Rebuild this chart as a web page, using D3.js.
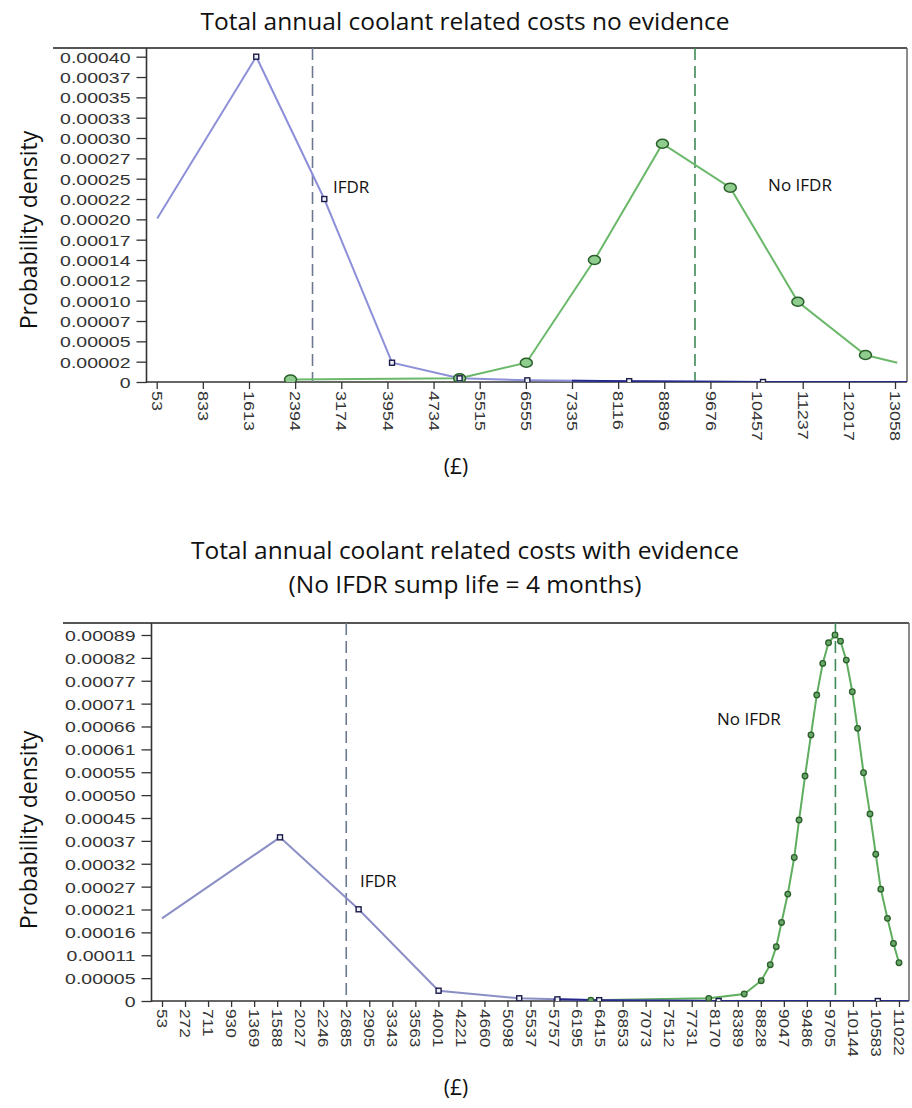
<!DOCTYPE html>
<html>
<head>
<meta charset="utf-8">
<script src="https://cdn.jsdelivr.net/npm/d3@7"></script>
<style>
  body { margin: 0; background: #ffffff; }
  svg { display: block; }
</style>
</head>
<body>
<svg id="chart" width="912" height="1108"></svg>
<script>
// ---------- Panel 1: no evidence ----------
const topXTicks = [53, 833, 1613, 2394, 3174, 3954, 4734, 5515, 6555, 7335, 8116, 8896, 9676, 10457, 11237, 12017, 13058];
const topYTickLabels = ["0", "0.00002", "0.00005", "0.00007", "0.00010", "0.00012", "0.00014", "0.00017",
  "0.00020", "0.00022", "0.00025", "0.00027", "0.00030", "0.00033", "0.00035", "0.00037", "0.00040"];
const topYMax = 0.0004;
// [cost £, density]
const topIfdr = [[62, 0.000201], [1736, 0.0004], [2887, 0.000225], [4032, 0.0000237], [5175, 0.0000045],
  [6580, 0.000002], [8303, 0.000001], [10566, 0], [13329, 0]];
const topNoIfdr = [[2316, 0.000003], [5175, 0.0000045], [6563, 0.0000237], [7715, 0.00015], [8865, 0.000293],
  [10012, 0.000239], [11155, 0.0000987], [12392, 0.0000332], [13110, 0.0000237]];
const topMeans = [2688, 9415];
const topTitle = ["Total annual coolant related costs no evidence"];

// ---------- Panel 2: with evidence ----------
const botXTicks = [53, 272, 711, 930, 1369, 1588, 2027, 2246, 2685, 2905, 3343, 3563, 4001, 4221, 4660, 5098, 5537,
  5757, 6195, 6415, 6853, 7073, 7512, 7731, 8170, 8389, 8828, 9047, 9486, 9705, 10144, 10583, 11022];
const botYTickLabels = ["0", "0.00005", "0.00011", "0.00016", "0.00021", "0.00027", "0.00032", "0.00037",
  "0.00045", "0.00050", "0.00055", "0.00061", "0.00066", "0.00071", "0.00077", "0.00082", "0.00089"];
const botYMax = 0.00089;
const botIfdr = [[53, 0.000201], [1642, 0.000398], [2803, 0.000223], [4003, 0.000025], [5322, 0.0000066],
  [5831, 0.000004], [6411, 0.000002], [8207, 0], [10618, 0], [11206, 0]];
const botNoIfdr = [[6331, 0.000002], [8056, 0.0000065], [8512, 0.000017], [8832, 0.0000494], [8918, 0.0000883],
  [8975, 0.000132], [9025, 0.000191], [9122, 0.00026], [9245, 0.000349], [9337, 0.00044], [9451, 0.000547],
  [9525, 0.000647], [9580, 0.000744], [9637, 0.000821], [9692, 0.000871], [9802, 0.00089], [9907, 0.000875],
  [10017, 0.000829], [10132, 0.000752], [10232, 0.000663], [10346, 0.000555], [10469, 0.000455],
  [10579, 0.000357], [10675, 0.000272], [10802, 0.000201], [10917, 0.00014], [11022, 0.0000931]];
const botMeans = [2685, 9810];
const botTitle = ["Total annual coolant related costs with evidence", "(No IFDR sump life = 4 months)"];

const seriesNames = ["IFDR", "No IFDR"];

const svg = d3.select("#chart");

function drawPanel(p) {
  const g = svg.append("g");
  const { left, right, top, bottom } = p.box;

  // Title
  p.title.forEach((t, i) => {
    g.append("text")
      .attr("x", 465).attr("y", p.titleY + i * 34)
      .attr("text-anchor", "middle")
      .style("font-family", "'Open Sans', sans-serif")
      .style("font-size", "24.5px")
      .attr("fill", "#111")
      .text(t);
  });

  // Scales: ticks are evenly spaced, so the x scale is piecewise over the tick values
  const n = p.xTicks.length;
  const x = d3.scaleLinear()
    .domain(p.xTicks)
    .range(p.xTicks.map((d, i) => p.tickStart + i * (p.tickEnd - p.tickStart) / (n - 1)));
  const y = d3.scaleLinear().domain([0, p.yMax]).range([bottom, p.yTopPx]);

  // Frame: top rule (spanning the tick labels) and right border
  g.append("line").attr("x1", p.frameStart).attr("x2", right).attr("y1", top).attr("y2", top)
    .attr("stroke", "#555").attr("stroke-width", 2);
  g.append("line").attr("x1", right).attr("x2", right).attr("y1", top).attr("y2", bottom)
    .attr("stroke", "#666").attr("stroke-width", 1.5);

  // Y axis
  const yTickVals = p.yLabels.map((d, i) => i * p.yMax / (p.yLabels.length - 1));
  const yAxis = g.append("g").attr("transform", `translate(${left},0)`)
    .call(d3.axisLeft(y).tickValues(yTickVals).tickSize(10).tickFormat((d, i) => p.yLabels[i]));
  yAxis.select(".domain").remove();
  yAxis.selectAll(".tick line").attr("stroke", "#333").attr("stroke-width", 1.3);
  yAxis.selectAll(".tick text")
    .attr("x", 0).attr("dy", "0.36em")
    .attr("transform", "translate(-16,0) scale(1.3,1)")
    .style("font-family", "'Liberation Sans', Arial, sans-serif")
    .style("font-size", "15px")
    .attr("fill", "#333");
  g.append("line").attr("x1", left).attr("x2", left).attr("y1", top).attr("y2", bottom + 1)
    .attr("stroke", "#333").attr("stroke-width", 1.6);

  // X axis
  const xAxis = g.append("g").attr("transform", `translate(0,${bottom})`)
    .call(d3.axisBottom(x).tickValues(p.xTicks).tickSize(p.xTickSize).tickFormat(d3.format("d")));
  xAxis.select(".domain").remove();
  xAxis.selectAll(".tick line").attr("stroke", "#333").attr("stroke-width", 1.3);
  xAxis.selectAll(".tick text")
    .attr("x", 0).attr("y", 0).attr("dy", "0.36em")
    .attr("text-anchor", "start")
    .attr("transform", `translate(0,${p.xTickSize + 2}) rotate(90) scale(${p.xLabelStretch},1)`)
    .style("font-family", "'Liberation Sans', Arial, sans-serif")
    .style("font-size", "15px")
    .attr("fill", "#333");
  g.append("line").attr("x1", left).attr("x2", right).attr("y1", bottom).attr("y2", bottom)
    .attr("stroke", "#333").attr("stroke-width", 1.6);

  // Axis titles
  g.append("text")
    .attr("transform", `translate(${p.yTitleX},${p.yTitleY}) rotate(-90)`)
    .attr("text-anchor", "middle")
    .style("font-family", "'Open Sans', sans-serif")
    .style("font-size", "23px")
    .attr("fill", "#111")
    .text("Probability density");
  g.append("text")
    .attr("x", 456).attr("y", p.unitY)
    .attr("text-anchor", "middle")
    .style("font-family", "'Open Sans', sans-serif")
    .style("font-size", "21px")
    .attr("fill", "#111")
    .text("(£)");

  // Plot content clipped to the frame
  const clipId = "clip" + p.id;
  svg.append("clipPath").attr("id", clipId).append("rect")
    .attr("x", left).attr("y", top).attr("width", right - left).attr("height", bottom - top);
  const plot = g.append("g").attr("clip-path", `url(#${clipId})`);

  // Mean lines
  plot.selectAll("line.mean").data(p.means).join("line")
    .attr("class", "mean")
    .attr("x1", d => x(d)).attr("x2", d => x(d))
    .attr("y1", top).attr("y2", bottom)
    .attr("stroke", (d, i) => i === 0 ? "#6c7890" : "#3f8a58")
    .attr("stroke-width", 1.6)
    .attr("stroke-dasharray", "12,6");

  const line = d3.line().x(d => x(d[0])).y(d => y(d[1]));

  // No IFDR (green)
  plot.append("path").datum(p.noIfdr).attr("d", line)
    .attr("fill", "none").attr("stroke", p.greenLine).attr("stroke-width", 2);

  // IFDR (blue), with the near-zero tail drawn darker
  plot.append("path").datum(p.ifdr).attr("d", line)
    .attr("fill", "none").attr("stroke", p.blueLine).attr("stroke-width", 2);
  const tail = p.ifdr.filter(d => d[0] >= p.tailFrom);
  const prev = p.ifdr.filter(d => d[0] < p.tailFrom).pop();
  const t0 = tail[0];
  const f = (p.tailFrom - prev[0]) / (t0[0] - prev[0]);
  const tailPts = [[p.tailFrom, prev[1] + f * (t0[1] - prev[1])], ...tail];
  plot.append("path").datum(tailPts).attr("d", line)
    .attr("fill", "none").attr("stroke", "#262a8c").attr("stroke-width", 2);

  // Green markers
  plot.selectAll("ellipse.noifdr").data(p.noIfdr.slice(0, p.noIfdr.length - p.greenUnmarkedEnd)).join("ellipse")
    .attr("class", "noifdr")
    .attr("cx", d => x(d[0])).attr("cy", d => y(d[1]))
    .attr("rx", p.greenRx).attr("ry", p.greenRy)
    .attr("fill", p.greenFill).attr("stroke", "#2a5f2a").attr("stroke-width", p.greenStroke);

  // Blue markers (first and last points are unmarked line ends)
  const s = p.square;
  plot.selectAll("rect.ifdr").data(p.ifdr.slice(1, p.ifdr.length - 1)).join("rect")
    .attr("class", "ifdr")
    .attr("x", d => x(d[0]) - s / 2).attr("y", d => y(d[1]) - s / 2)
    .attr("width", s).attr("height", s)
    .attr("fill", "#eef0f8").attr("stroke", "#1b1b48").attr("stroke-width", 1.4);

  // Series labels
  p.labels.forEach((l, i) => {
    g.append("text")
      .attr("x", x(l[0])).attr("y", y(l[1]))
      .style("font-family", "'Open Sans', sans-serif")
      .style("font-size", "17px")
      .attr("fill", "#111")
      .text(seriesNames[i]);
  });
}

drawPanel({
  id: 1,
  title: topTitle, titleY: 30,
  box: { left: 146.5, right: 907, top: 48, bottom: 382 },
  frameStart: 53,
  tickStart: 156.7, tickEnd: 895,
  yTopPx: 56.7, yMax: topYMax, yLabels: topYTickLabels,
  xTicks: topXTicks, xTickSize: 7, xLabelStretch: 1.2,
  yTitleX: 37, yTitleY: 230, unitY: 474,
  ifdr: topIfdr, noIfdr: topNoIfdr, means: topMeans,
  tailFrom: 7335,
  blueLine: "#8d90d8", greenLine: "#6ab86a",
  greenRx: 6, greenRy: 4.5, greenFill: "#8fcd8f", greenStroke: 1.5, greenUnmarkedEnd: 1,
  square: 5,
  labels: [[3034, 0.000232], [10652, 0.000235]]
});

drawPanel({
  id: 2,
  title: botTitle, titleY: 559,
  box: { left: 151.5, right: 909, top: 623, bottom: 1001 },
  frameStart: 63,
  tickStart: 162, tickEnd: 899,
  yTopPx: 635, yMax: botYMax, yLabels: botYTickLabels,
  xTicks: botXTicks, xTickSize: 6, xLabelStretch: 1.15,
  yTitleX: 37, yTitleY: 830, unitY: 1095,
  ifdr: botIfdr, noIfdr: botNoIfdr, means: botMeans,
  tailFrom: 5757,
  blueLine: "#8b8fc6", greenLine: "#5fae5f",
  greenRx: 2.8, greenRy: 2.8, greenFill: "#6aa86a", greenStroke: 1.3, greenUnmarkedEnd: 0,
  square: 5,
  labels: [[2817, 0.000277], [8192, 0.000671]]
});
</script>
</body>
</html>
